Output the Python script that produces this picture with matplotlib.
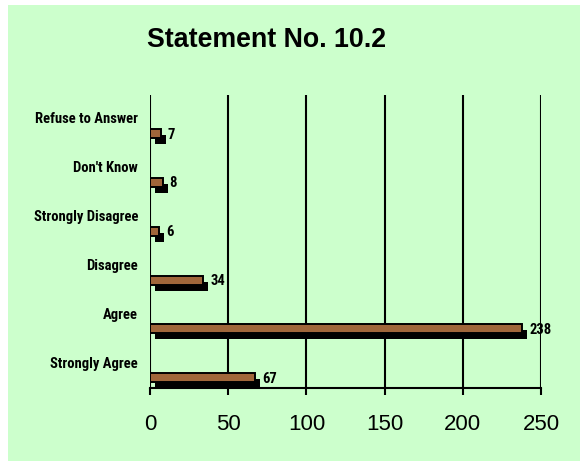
import matplotlib
matplotlib.use("Agg")
import matplotlib.pyplot as plt
import matplotlib.transforms as mtransforms
from matplotlib import font_manager
from matplotlib.patches import Rectangle

categories = ["Strongly Agree", "Agree", "Disagree", "Strongly Disagree", "Don't Know", "Refuse to Answer"]
values = [67, 238, 34, 6, 8, 7]
xticks = [0, 50, 100, 150, 200, 250]
title = "Statement No. 10.2"

names = {f.name for f in font_manager.fontManager.ttflist}
narrow = None
for cand in ["Liberation Sans Narrow", "Arial Narrow", "Roboto Condensed", "DejaVu Sans Condensed"]:
    if cand in names:
        narrow = cand
        break
if narrow is None:
    narrow = "Liberation Sans"
    lab_fs = 9.5
else:
    lab_fs = 10.5
plt.rcParams['font.family'] = ['Liberation Sans', 'DejaVu Sans']

W, H = 580, 461
fig = plt.figure(figsize=(W / 100, H / 100), dpi=100)
fig.patch.set_facecolor('white')
fig.add_artist(Rectangle((8 / W, 0), 1 - 8 / W, 1 - 5 / H, transform=fig.transFigure,
                         facecolor='#CCFFCC', edgecolor='none', zorder=0))

ax = fig.add_axes([150 / W, 1 - 388 / H, (541 - 150) / W, (388 - 95) / H])
ax.set_facecolor('none')
ax.set_xlim(0, 250)
ax.set_ylim(0, 6)

for x in xticks:
    ax.axvline(x, color='black', lw=1.5, zorder=1)

ypos = [i + 0.21 for i in range(len(categories))]
bh = 0.185
shadow = mtransforms.offset_copy(ax.transData, fig=fig, x=5, y=-6, units='dots')
ax.barh(ypos, values, height=bh, color='black', edgecolor='black', lw=0, transform=shadow, zorder=2)
ax.barh(ypos, values, height=bh, color='#A0663A', edgecolor='black', lw=1.4, zorder=3)

lab_tr = mtransforms.offset_copy(ax.transData, fig=fig, x=7, y=-1, units='dots')
for y, v in zip(ypos, values):
    ax.text(v, y, str(v), transform=lab_tr, ha='left', va='center', fontsize=lab_fs,
            fontweight='bold', family=[narrow, 'DejaVu Sans'], zorder=4)

cat_tr = mtransforms.blended_transform_factory(fig.transFigure, ax.transData)
for i, c in enumerate(categories):
    ax.text(138 / W, i + 0.5, c, transform=cat_tr, ha='right', va='center', fontsize=lab_fs,
            fontweight='bold', family=[narrow, 'DejaVu Sans'])

ax.set_yticks([])
ax.set_xticks(xticks)
ax.set_xticklabels([str(x) for x in xticks], fontsize=16)
ax.tick_params(axis='x', length=5, width=1.5, color='black', pad=14)
for s in ['top', 'right', 'left']:
    ax.spines[s].set_visible(False)
ax.spines['bottom'].set_linewidth(1.5)

fig.text(267 / W, 1 - 40 / H, title, ha='center', va='center', fontsize=19.3, fontweight='bold')

fig.savefig('out.png', dpi=100, facecolor=fig.get_facecolor())
